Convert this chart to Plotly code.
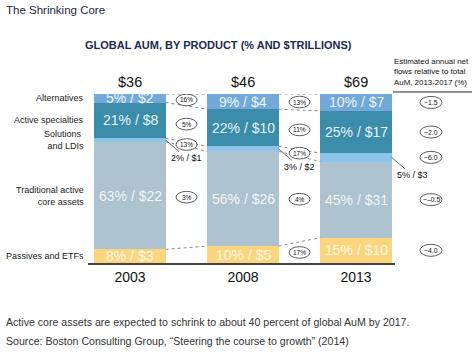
import plotly.graph_objects as go

# ---------------- data ----------------
years = ["2003", "2008", "2013"]
totals = ["$36", "$46", "$69"]

# bottom to top
categories = ["Passives and ETFs", "Traditional active<br>core assets", "Solutions <br>and LDIs",
              "Active specialties", "Alternatives"]
pct_passives = [8, 10, 15]
pct_traditional = [63, 56, 45]
pct_solutions = [2, 3, 5]
pct_active = [21, 22, 25]
pct_alternatives = [5, 9, 10]

usd_passives = [3, 5, 10]
usd_traditional = [22, 26, 31]
usd_solutions = [1, 2, 3]
usd_active = [8, 10, 17]
usd_alternatives = [2, 4, 7]

growth_03_08 = [None, 3, 13, 5, 16]     # bottom to top
growth_08_13 = [17, 4, 17, 11, 13]
net_flows = ["~4.0", "~–0.5", "~6.0", "~2.0", "~1.5"]

colors = ["#fcd67e", "#aec3d0", "#8cc3e8", "#3c8dab", "#72a9d8"]
label_colors = ["rgba(255,255,255,0.8)", "rgba(255,255,255,0.85)", "white",
                "rgba(255,255,255,0.9)", "rgba(255,255,255,0.9)"]

pcts = [pct_passives, pct_traditional, pct_solutions, pct_active, pct_alternatives]
usds = [usd_passives, usd_traditional, usd_solutions, usd_active, usd_alternatives]

# ---------------- geometry helpers from data ----------------
n = len(years)
col_sum = [sum(p[i] for p in pcts) for i in range(n)]
heights = [[p[i] / col_sum[i] * 100 for i in range(n)] for p in pcts]
cum_top = []
run = [0.0] * n
for h in heights:
    run = [run[i] + h[i] for i in range(n)]
    cum_top.append(run[:])
mids = [[cum_top[k][i] - heights[k][i] / 2 for i in range(n)] for k in range(len(pcts))]

W = 0.63
FONT = "Liberation Sans, Arial, sans-serif"
xs = list(range(n))

# plot area in pixels (for paper-referenced fixed-size marks)
PW = 474 - 88 - 79
PH = 352 - 94 - 89

fig = go.Figure()
for k, cat in enumerate(categories):
    fig.add_trace(go.Bar(
        x=xs, y=heights[k], width=W, name=cat.replace("<br>", " "),
        marker=dict(color=colors[k], line=dict(width=0)),
        hoverinfo="skip", showlegend=False))

annotations = []
shapes = []

# labels inside segments
for k in range(len(pcts)):
    if k == 2:
        continue
    for i in range(n):
        annotations.append(dict(
            x=xs[i], y=mids[k][i], xref="x", yref="y",
            text=f"{pcts[k][i]}% / ${usds[k][i]}", showarrow=False,
            font=dict(family=FONT, size=14, color=label_colors[k])))

# solutions labels outside with leader line
for i in range(n):
    annotations.append(dict(
        x=xs[i] + W / 2, y=mids[2][i], xref="x", yref="y",
        text=f"{pcts[2][i]}% / ${usds[2][i]}", showarrow=True,
        arrowhead=0, arrowwidth=0.8, arrowcolor="#444", ax=21, ay=18,
        font=dict(family=FONT, size=9, color="#111")))

# totals above bars
for i in range(n):
    annotations.append(dict(
        x=xs[i], y=100, xref="x", yref="y", yanchor="bottom", yshift=2,
        text=totals[i], showarrow=False,
        font=dict(family=FONT, size=14.5, color="#111")))

# dotted connectors between bars
for k in range(len(pcts)):
    for i in range(n - 1):
        shapes.append(dict(
            type="line", xref="x", yref="y",
            x0=xs[i] + W / 2, y0=cum_top[k][i],
            x1=xs[i + 1] - W / 2, y1=cum_top[k][i + 1],
            line=dict(color="#8a8a8a", width=1, dash="dot")))

# growth ellipses between bars
for gi, growth in enumerate([growth_03_08, growth_08_13]):
    for k in range(len(pcts)):
        g = growth[k]
        if g is None:
            continue
        yc = (mids[k][gi] + mids[k][gi + 1]) / 2
        xc = (xs[gi] + xs[gi + 1]) / 2
        shapes.append(dict(
            type="circle", xref="x", yref="y", xsizemode="pixel", ysizemode="pixel",
            xanchor=xc, yanchor=yc, x0=-10.5, x1=10.5, y0=-5.8, y1=5.8,
            line=dict(color="#333", width=0.8), fillcolor="white"))
        annotations.append(dict(
            x=xc, y=yc, xref="x", yref="y", text=f"{g}%", showarrow=False,
            xanchor="center", yanchor="middle",
            font=dict(family=FONT, size=6.5, color="#111")))

# right column: estimated net flows
RX = (431 - 88) / PW
for k in range(len(pcts)):
    yc = mids[k][n - 1] / 100
    shapes.append(dict(
        type="circle", xref="paper", yref="paper",
        x0=RX - 11 / PW, x1=RX + 11 / PW, y0=yc - 6 / PH, y1=yc + 6 / PH,
        line=dict(color="#333", width=0.8), fillcolor="rgba(0,0,0,0)"))
    annotations.append(dict(
        x=RX, y=yc, xref="paper", yref="paper", text=net_flows[k], showarrow=False,
        xanchor="center", yanchor="middle",
        font=dict(family=FONT, size=6.8, color="#111")))

annotations.append(dict(
    x=(392 - 88) / PW, y=1.03, xref="paper", yref="paper", xanchor="left", yanchor="bottom",
    align="left", showarrow=False,
    text="Estimated annual net<br>flows relative to total<br>AuM, 2013-2017 (%)",
    font=dict(family=FONT, size=7.9, color="#111")))
shapes.append(dict(type="line", xref="paper", yref="paper",
                   x0=(393 - 88) / PW, x1=(472 - 88) / PW,
                   y0=1.012, y1=1.012, line=dict(color="#222", width=1)))

# left category labels
for k, cat in enumerate(categories):
    annotations.append(dict(
        x=-0.008, y=mids[k][0], xref="paper", yref="y", xanchor="right",
        align="right", text=cat, showarrow=False,
        font=dict(family=FONT, size=9, color="#222")))

# titles and footer
annotations.append(dict(
    x=-0.272, y=1.5, xref="paper", yref="paper", xanchor="left", yanchor="middle",
    text="The Shrinking Core", showarrow=False,
    font=dict(family=FONT, size=11.5, color="#1c2540")))
annotations.append(dict(
    x=-0.017, y=1.29, xref="paper", yref="paper", xanchor="left", yanchor="middle",
    text="<b>GLOBAL AUM, BY PRODUCT (% AND $TRILLIONS)</b>", showarrow=False,
    font=dict(family=FONT, size=11, color="#1d2b4f")))
annotations.append(dict(
    x=-0.272, y=-0.35, xref="paper", yref="paper", xanchor="left", yanchor="middle",
    text="Active core assets are expected to schrink to about 40 percent of global AuM by 2017.",
    showarrow=False, font=dict(family=FONT, size=10.6, color="#333")))
annotations.append(dict(
    x=-0.272, y=-0.462, xref="paper", yref="paper", xanchor="left", yanchor="middle",
    text="Source: Boston Consulting Group, \u201cSteering the course to growth\u201d (2014)",
    showarrow=False, font=dict(family=FONT, size=10.6, color="#333")))

fig.update_layout(
    width=474, height=352, barmode="stack", bargap=0,
    margin=dict(l=88, r=79, t=94, b=89),
    paper_bgcolor="white", plot_bgcolor="white",
    annotations=annotations, shapes=shapes,
    xaxis=dict(range=[-0.372, 2.345], tickvals=xs, ticktext=years,
               showline=True, linecolor="#444", linewidth=1.5, ticks="",
               showgrid=False, zeroline=False, fixedrange=True,
               tickfont=dict(family=FONT, size=14, color="#111")),
    yaxis=dict(range=[0, 100], visible=False, fixedrange=True),
)

fig.write_html("out.html")
